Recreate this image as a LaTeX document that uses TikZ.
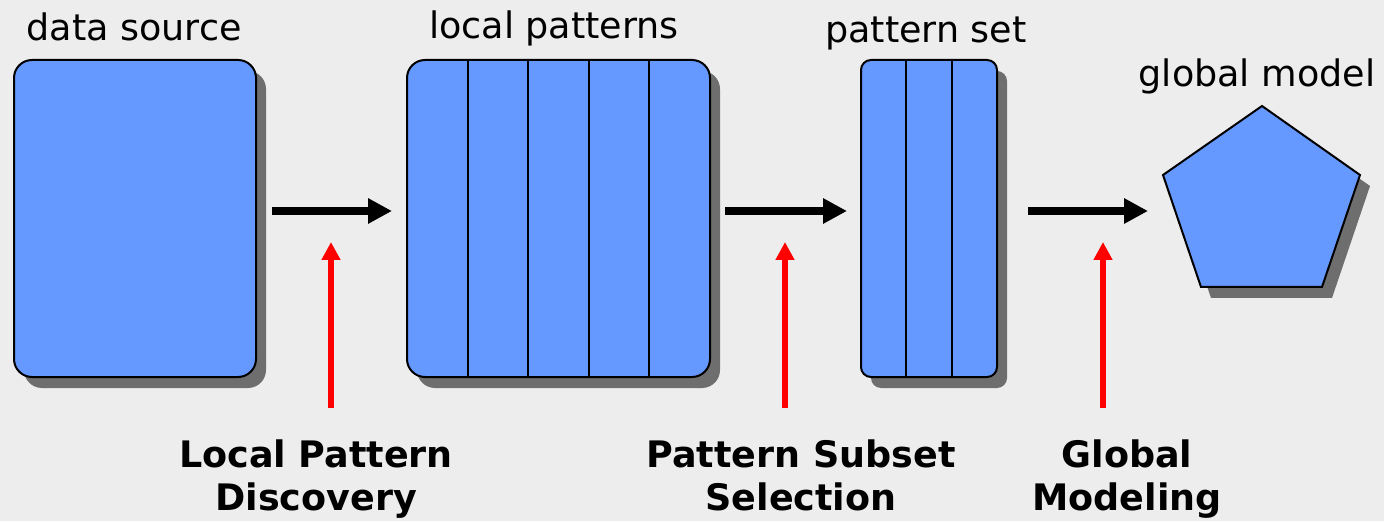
\documentclass[tikz,border=0pt]{standalone}
\usepackage{fontspec}
\setmainfont{DejaVu Sans}
\usetikzlibrary{arrows.meta,shadows,calc}
\definecolor{bgc}{RGB}{236,237,236}
\definecolor{boxblue}{RGB}{102,153,255}
\definecolor{shadowgray}{RGB}{110,110,110}
\definecolor{redc}{RGB}{255,0,0}
\begin{document}
\begin{tikzpicture}[x=1pt,y=-1pt,
  blockbox/.style={draw=black,line width=2pt,fill=boxblue,minimum height=317pt,inner sep=0pt,outer sep=0pt,
    drop shadow={shadow xshift=10pt,shadow yshift=-11pt,fill=shadowgray,opacity=1}},
  divider/.style={draw=black,line width=2pt},
  flowarrow/.style={draw=black,line width=8pt,-{Triangle[length=24pt,width=24pt]}},
  inarrow/.style={draw=redc,line width=5.5pt,-{Triangle[length=18pt,width=18pt]}},
  toplabel/.style={font=\fontsize{36.5pt}{43pt}\selectfont,anchor=base,inner sep=0pt},
  botlabel/.style={font=\fontsize{36.5pt}{43pt}\selectfont\bfseries,align=center,anchor=base,inner sep=0pt}]
\fill[bgc] (0,0) rectangle (1384,521);
\useasboundingbox (0,0) rectangle (1384,521);

% boxes
\node[blockbox,rounded corners=18pt,minimum width=242pt] (src) at (135,218.5) {};
\node[blockbox,rounded corners=18pt,minimum width=303pt] (loc) at (558.5,218.5) {};
\node[blockbox,rounded corners=10pt,minimum width=136pt] (set) at (929,218.5) {};

\foreach \f in {0.2,0.4,0.6,0.8}
  \draw[divider] ($(loc.north west)!\f!(loc.north east)$) -- ($(loc.south west)!\f!(loc.south east)$);
\foreach \f in {0.3333,0.6667}
  \draw[divider] ($(set.north west)!\f!(set.north east)$) -- ($(set.south west)!\f!(set.south east)$);

% pentagon
\coordinate (p1) at (1262,106);
\coordinate (p2) at (1360,175);
\coordinate (p3) at (1322,287);
\coordinate (p4) at (1201,287);
\coordinate (p5) at (1163,175);
\fill[shadowgray] ([shift={(10,11)}]p1) -- ([shift={(10,11)}]p2) -- ([shift={(10,11)}]p3) -- ([shift={(10,11)}]p4) -- ([shift={(10,11)}]p5) -- cycle;
\draw[line width=2pt,fill=boxblue,line join=miter] (p1) -- (p2) -- (p3) -- (p4) -- (p5) -- cycle;
\coordinate (glob) at (1163,211);

% top labels
\node[toplabel] (lsrc) at (134,41) {data source};
\node[toplabel] (lloc) at (554,39) {local patterns};
\node[toplabel] (lset) at (926,43) {pattern set};
\node[toplabel] (lglob) at (1257,87) {global model};

% flow arrows
\coordinate (a1s) at (272,211);
\coordinate (a1e) at (392,211);
\coordinate (a2s) at (725,211);
\coordinate (a2e) at (847,211);
\coordinate (a3s) at (1028,211);
\coordinate (a3e) at (1148,211);
\draw[flowarrow] (a1s) -- (a1e);
\draw[flowarrow] (a2s) -- (a2e);
\draw[flowarrow] (a3s) -- (a3e);

% red arrows
\coordinate (r1s) at (331,408);
\coordinate (r1e) at (331,242);
\coordinate (r2s) at (785,408);
\coordinate (r2e) at (785,242);
\coordinate (r3s) at (1103,408);
\coordinate (r3e) at (1103,242);
\draw[inarrow] (r1s) -- (r1e);
\draw[inarrow] (r2s) -- (r2e);
\draw[inarrow] (r3s) -- (r3e);

% bottom labels
\node[botlabel] (b1) at (316,510) {Local Pattern\\Discovery};
\node[botlabel] (b2) at (801,510) {Pattern Subset\\Selection};
\node[botlabel] (b3) at (1127,510) {Global\\Modeling};
\end{tikzpicture}
\end{document}
